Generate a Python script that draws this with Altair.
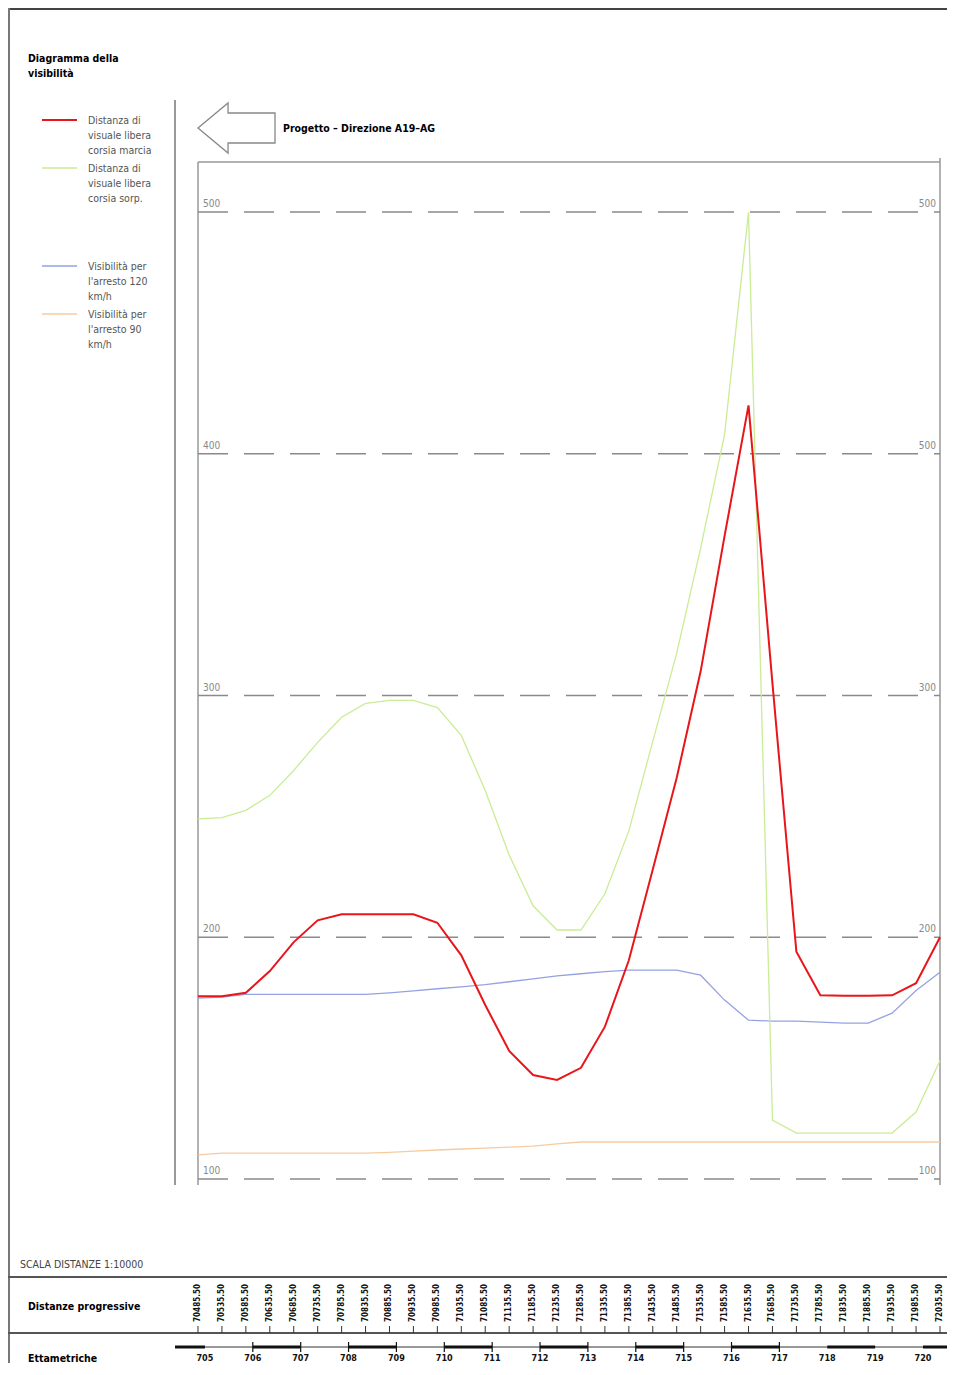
import altair as alt
import pandas as pd

# ---------------- data ----------------
dist = [70485.50, 70535.50, 70585.50, 70635.50, 70685.50, 70735.50, 70785.50, 70835.50,
        70885.50, 70935.50, 70985.50, 71035.50, 71085.50, 71135.50, 71185.50, 71235.50,
        71285.50, 71335.50, 71385.50, 71435.50, 71485.50, 71535.50, 71585.50, 71635.50,
        71685.50, 71735.50, 71785.50, 71835.50, 71885.50, 71935.50, 71985.50, 72035.50]
dist_lab = ["70485.50", "70535.50", "70585.50", "70635.50", "70685.50", "70735.50", "70785.50", "70835.50",
            "70885.50", "70935.50", "70985.50", "71035.50", "71085.50", "71135.50", "71185.50", "71235.50",
            "71285.50", "71335.50", "71385.50", "71435.50", "71485.50", "71535.50", "71585.50", "71635.50",
            "71685.50", "71735.50", "71785.50", "71835.50", "71885.50", "71935.50", "71985.50", "72035.50"]

red = [175.6, 175.6, 177.0, 186.0, 198.0, 207.0, 209.5, 209.5, 209.5, 209.5, 206.0, 192.5,
       172.0, 153.0, 143.0, 141.0, 146.0, 163.0, 190.5, 228.0, 266.0, 310.0, 366.0, 420.0,
       305.0, 194.0, 176.0, 175.8, 175.8, 176.0, 181.0, 200.0]
green = [249.0, 249.5, 252.5, 258.7, 269.0, 280.6, 291.0, 296.7, 298.0, 298.0, 295.0, 283.5,
         260.7, 234.0, 213.0, 203.0, 203.0, 218.0, 244.0, 281.0, 317.5, 361.0, 408.0, 500.0,
         124.4, 119.0, 119.0, 119.0, 119.0, 119.0, 127.7, 149.0]
blue = [174.8, 175.2, 176.4, 176.4, 176.4, 176.4, 176.4, 176.4, 177.0, 177.8, 178.7, 179.5,
        180.4, 181.6, 182.8, 184.0, 184.9, 185.8, 186.4, 186.4, 186.4, 184.3, 174.0, 165.7,
        165.3, 165.3, 164.9, 164.5, 164.5, 168.6, 178.0, 185.5]
orange = [110.0, 110.7, 110.7, 110.7, 110.7, 110.7, 110.7, 110.7, 111.0, 111.5, 112.0, 112.4,
          112.8, 113.2, 113.6, 114.5, 115.3, 115.3, 115.3, 115.3, 115.3, 115.3, 115.3, 115.3,
          115.3, 115.3, 115.3, 115.3, 115.3, 115.3, 115.3, 115.3]

grid_vals = [100, 200, 300, 400, 500]
grid_left = ["100", "200", "300", "400", "500"]
grid_right = ["100", "200", "300", "500", "500"]

hecto_pos = [70500, 70600, 70700, 70800, 70900, 71000, 71100, 71200,
             71300, 71400, 71500, 71600, 71700, 71800, 71900, 72000]
hecto_lab = ["705", "706", "707", "708", "709", "710", "711", "712",
             "713", "714", "715", "716", "717", "718", "719", "720"]
hecto_tick = [70600, 70700, 70800, 70900, 71000, 71100, 71200, 71300,
              71400, 71500, 71600, 71700]
thick_start = [70437.5, 70600, 70800, 71000, 71200, 71400, 71600, 71800, 72000]
thick_end = [70500, 70700, 70900, 71100, 71300, 71500, 71700, 71900, 72100]

legend_items = [
    ("Distanza di\nvisuale libera\ncorsia marcia", "#e8161b", 2.0),
    ("Distanza di\nvisuale libera\ncorsia sorp.", "#c9ec95", 1.3),
    ("Visibilità per\nl'arresto 120\nkm/h", "#95a2e2", 1.3),
    ("Visibilità per\nl'arresto 90\nkm/h", "#f6cba1", 1.3),
]

# ---------------- layout ----------------
W, H = 939, 1355
FONT = "DejaVu Sans Condensed, Liberation Sans Narrow, Roboto, Liberation Sans, sans-serif"
xs = alt.Scale(domain=[dist[0], dist[-1]], range=[190, 932])
ys = alt.Scale(domain=[100, 500], range=[1171, 204])
one = pd.DataFrame({"a": [0]})


def rule(x, x2, y, y2, color="#999999", sw=1.5):
    return alt.Chart(one).mark_rule(color=color, strokeWidth=sw).encode(
        x=alt.value(x), x2=alt.value(x2), y=alt.value(y), y2=alt.value(y2))


def txt(s, x, y, size=11, bold=False, color="#000000", align="left"):
    return alt.Chart(one).mark_text(
        text=s, font=FONT, fontSize=size, fontWeight="bold" if bold else "normal",
        color=color, align=align, baseline="middle", lineBreak="\n", lineHeight=15
    ).encode(x=alt.value(x), y=alt.value(y))


layers = []

# frame lines
layers += [
    rule(0, W, 1, 1, "#444444", 2),
    rule(1, 1, 0, H, "#777777", 2),
    rule(167, 167, 92, 1177, "#999999", 2),
    rule(190, 932, 154, 154, "#999999", 1.5),
    rule(190, 190, 154, 1177, "#999999", 1.5),
    rule(932, 932, 150, 1177, "#999999", 1.5),
    rule(0, W, 1269, 1269, "#555555", 2),
    rule(0, W, 1325, 1325, "#555555", 2),
]

# title, header arrow, legend
layers.append(txt("Diagramma della\nvisibilità", 20, 51, 10.5, True))
arrow = "M -1 0 L -0.22 -0.65 L -0.22 -0.39 L 1 -0.39 L 1 0.39 L -0.22 0.39 L -0.22 0.65 Z"
layers.append(alt.Chart(one).mark_point(shape=arrow, size=77 * 77, filled=False,
                                        color="#888888", strokeWidth=1.3, opacity=1)
              .encode(x=alt.value(228.5), y=alt.value(120)))
layers.append(txt("Progetto – Direzione A19–AG", 275, 121, 10.5, True))

leg_y = [112, 160, 258, 306]
for (label, col, sw), yy in zip(legend_items, leg_y):
    layers.append(rule(34, 69, yy, yy, col, sw))
    layers.append(txt(label, 80, yy + 1, 10.5, False, "#555555"))

# grid lines and labels
gdf = pd.DataFrame({"v": grid_vals, "l": grid_left, "r": grid_right})
yenc = alt.Y("v:Q", scale=ys, axis=None)
layers.append(alt.Chart(gdf).mark_rule(color="#8a8a8a", strokeWidth=1.5, strokeDash=[30, 16])
              .encode(y=yenc, x=alt.value(190), x2=alt.value(932)))
layers.append(alt.Chart(gdf).mark_text(font=FONT, fontSize=10, color="#888888", align="left",
                                       baseline="bottom", dy=-3)
              .encode(y=yenc, x=alt.value(195), text="l:N"))
layers.append(alt.Chart(gdf).mark_text(font=FONT, fontSize=10, color="#888888", align="right",
                                       baseline="bottom", dy=-3)
              .encode(y=yenc, x=alt.value(928), text="r:N"))

# series
xenc = alt.X("d:Q", scale=xs, axis=None)
for vals, (label, col, sw) in zip([orange, blue, green, red], [legend_items[3], legend_items[2], legend_items[1], legend_items[0]]):
    df = pd.DataFrame({"d": dist, "v": vals})
    layers.append(alt.Chart(df).mark_line(color=col, strokeWidth=sw)
                  .encode(x=xenc, y=alt.Y("v:Q", scale=ys, axis=None)))

# bottom table
layers.append(txt("SCALA DISTANZE    1:10000", 12, 1257, 10.5, False, "#444444"))
layers.append(txt("Distanze progressive", 20, 1299, 10.5, True))
layers.append(txt("Ettametriche", 20, 1351, 10.5, True))

ddf = pd.DataFrame({"d": dist, "l": dist_lab})
layers.append(alt.Chart(ddf).mark_text(font=FONT, fontSize=8, fontWeight="bold", angle=270,
                                       align="center", baseline="middle", color="#111111")
              .encode(x=xenc, y=alt.value(1295), text="l:N"))
layers.append(alt.Chart(ddf).mark_rule(color="#333333", strokeWidth=1)
              .encode(x=xenc, y=alt.value(1318), y2=alt.value(1325)))

layers.append(rule(167, W, 1339, 1339, "#333333", 1))
tdf = pd.DataFrame({"d": thick_start, "d2": thick_end})
layers.append(alt.Chart(tdf).mark_rule(color="#111111", strokeWidth=3)
              .encode(x=xenc, x2="d2:Q", y=alt.value(1339)))
hdf = pd.DataFrame({"d": hecto_tick})
layers.append(alt.Chart(hdf).mark_rule(color="#111111", strokeWidth=1.2)
              .encode(x=xenc, y=alt.value(1334), y2=alt.value(1344)))
ldf = pd.DataFrame({"d": hecto_pos, "l": hecto_lab})
layers.append(alt.Chart(ldf).mark_text(font=FONT, fontSize=9, fontWeight="bold", color="#111111",
                                       align="center", baseline="middle")
              .encode(x=xenc, y=alt.value(1350), text="l:N"))

chart = alt.layer(*layers).properties(
    width=W, height=H, autosize=alt.AutoSizeParams(type="none"), padding=0
).configure_view(strokeWidth=0)

chart.save("out.html", embed_options={"renderer": "svg", "actions": False})
